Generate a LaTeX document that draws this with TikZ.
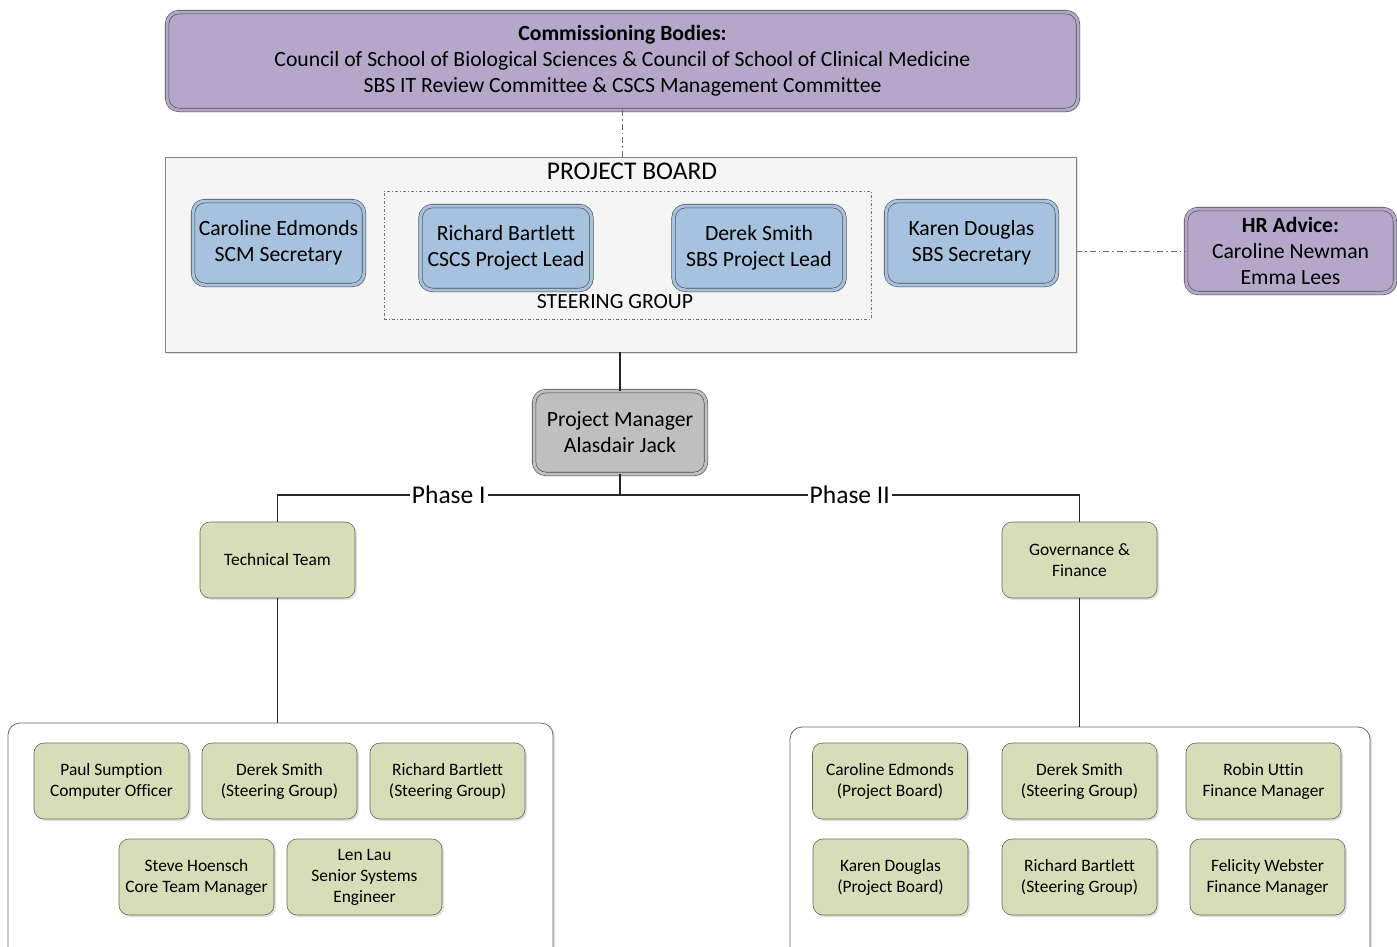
\documentclass[tikz,border=0pt]{standalone}
\usepackage{fontspec}
\setmainfont[Ligatures=NoCommon]{Carlito}
\usetikzlibrary{shadows}

\definecolor{lilac}{RGB}{180,168,202}
\definecolor{steelblue}{RGB}{166,194,222}
\definecolor{sage}{RGB}{215,221,182}
\definecolor{pmgrey}{RGB}{191,191,191}
\definecolor{linkviolet}{RGB}{112,96,160}

\newcommand{\bigfont}{\fontsize{21.7}{26}\selectfont}
\newcommand{\smallfont}{\fontsize{17.4}{21}\selectfont}
\newcommand{\titlefont}{\fontsize{25.5}{30}\selectfont}

\tikzstyle{boxshadow} = [drop shadow={shadow xshift=2pt, shadow yshift=-2pt, opacity=0.25}]
\tikzstyle{doublebox} = [rectangle, rounded corners=12pt, draw=black!70, line width=0.6pt, double distance=3pt, text centered, align=center, font=\bigfont, inner sep=0pt, boxshadow]
\tikzstyle{purplebox} = [doublebox, fill=lilac, double=lilac]
\tikzstyle{bluebox} = [doublebox, fill=steelblue, double=steelblue, minimum width=171pt, minimum height=84pt]
\tikzstyle{greybox} = [doublebox, fill=pmgrey, double=pmgrey, minimum width=172pt, minimum height=83pt]
\tikzstyle{greenbox} = [rectangle, rounded corners=10pt, draw=black!60, line width=0.6pt, fill=sage, text centered, align=center, font=\smallfont, minimum width=155pt, minimum height=76pt, inner sep=0pt, boxshadow]
\tikzstyle{groupbox} = [rectangle, rounded corners=12pt, draw=black!60, line width=0.8pt, fill=white, boxshadow]
\tikzstyle{link} = [line width=1.5pt, draw=black!85]
\tikzstyle{advice} = [line width=0.8pt, draw=linkviolet, dash pattern=on 6pt off 3pt on 1.5pt off 3pt]
\tikzstyle{phase} = [fill=white, font=\titlefont, inner sep=2pt]

\begin{document}
\begin{tikzpicture}[x=1pt, y=-1pt]
  \path[use as bounding box, clip] (0,0) rectangle (1397,946);

  % top of the chart
  \node (comm) [purplebox, minimum width=911pt, minimum height=98pt] at (622.5,61) {\textbf{Commissioning Bodies:}\\Council of School of Biological Sciences \& Council of School of Clinical Medicine\\SBS IT Review Committee \& CSCS Management Committee};

  \node (board) [rectangle, draw=black!50, line width=0.8pt, fill=black!4, minimum width=911pt, minimum height=195pt, boxshadow] at (620.5,254.5) {};
  \node (boardtitle) [font=\titlefont] at (632,171) {PROJECT BOARD};
  \node (steering) [rectangle, draw=black!55, line width=0.7pt, dash pattern=on 3pt off 2pt on 1pt off 2pt, minimum width=487pt, minimum height=128pt] at (627.5,255) {};
  \node (steertitle) [font=\bigfont] at (615,302) {STEERING GROUP};

  \node (edmonds) [bluebox] at (278.5,243) {Caroline Edmonds\\SCM Secretary};
  \node (bartlett) [bluebox] at (506,248) {Richard Bartlett\\CSCS Project Lead};
  \node (smith) [bluebox] at (759,248) {Derek Smith\\SBS Project Lead};
  \node (douglas) [bluebox] at (971.5,243) {Karen Douglas\\SBS Secretary};

  \node (hr) [purplebox, minimum width=209pt, minimum height=84pt] at (1290.5,251) {\textbf{HR Advice:}\\Caroline Newman\\Emma Lees};

  \node (pm) [greybox] at (620,432.5) {Project Manager\\Alasdair Jack};

  % phases
  \coordinate (split) at (620,495);
  \node (tech) [greenbox] at (277.5,560) {Technical Team};
  \node (gov) [greenbox] at (1079.5,560) {Governance \&\\Finance};

  \node (techgrp) [groupbox, minimum width=545pt, minimum height=237pt] at (280.5,841.5) {};
  \node (govgrp) [groupbox, minimum width=580pt, minimum height=233pt] at (1080,843.5) {};

  \node (sumption) [greenbox] at (111.5,781) {Paul Sumption\\Computer Officer};
  \node (techsmith) [greenbox] at (279.5,781) {Derek Smith\\(Steering Group)};
  \node (techbartlett) [greenbox] at (447.5,781) {Richard Bartlett\\(Steering Group)};
  \node (hoensch) [greenbox] at (196.5,877) {Steve Hoensch\\Core Team Manager};
  \node (lau) [greenbox] at (364.5,877) {Len Lau\\Senior Systems\\Engineer};

  \node (govedmonds) [greenbox] at (890,781) {Caroline Edmonds\\(Project Board)};
  \node (govsmith) [greenbox] at (1079.5,781) {Derek Smith\\(Steering Group)};
  \node (uttin) [greenbox] at (1263.5,781) {Robin Uttin\\Finance Manager};
  \node (govdouglas) [greenbox] at (890.5,877) {Karen Douglas\\(Project Board)};
  \node (govbartlett) [greenbox] at (1079.5,877) {Richard Bartlett\\(Steering Group)};
  \node (webster) [greenbox] at (1267.5,877) {Felicity Webster\\Finance Manager};

  % connectors
  \draw [advice] (comm.south) -- (comm.south |- board.north);
  \draw [advice] (board.east |- hr.west) -- (hr.west);
  \draw [link] (pm.north |- board.south) -- (pm.north);
  \draw [link] (pm.south) -- (split);
  \draw [link] (split) -| node[phase, pos=0.25] {Phase I} (tech.north);
  \draw [link] (split) -| node[phase, pos=0.25] {Phase II} (gov.north);
  \draw [link] (tech.south) -- (tech.south |- techgrp.north);
  \draw [link] (gov.south) -- (gov.south |- govgrp.north);
\end{tikzpicture}
\end{document}
